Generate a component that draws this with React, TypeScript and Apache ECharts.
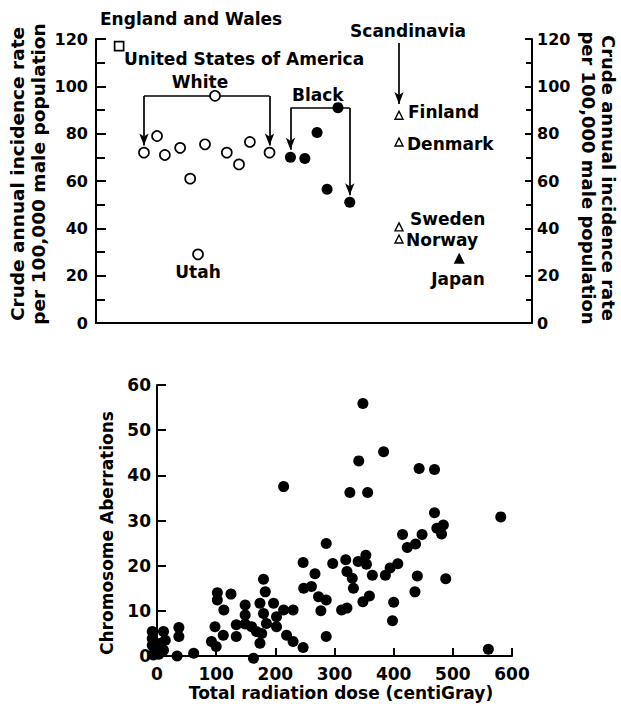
import React, { useEffect, useRef } from "react";
import * as echarts from "echarts";

const FONT = "DejaVu Sans";

// ---------- Top chart: crude annual incidence rate (per 100,000 male population) ----------
// x = position along the (unlabelled) horizontal axis, y = rate
const englandWales: number[][] = [[5.3, 117]];
const usWhiteX = [11.0, 14.0, 15.8, 19.3, 21.6, 25.0, 30.0, 32.8, 35.3, 39.8];
const usWhiteY = [72, 79, 71, 74, 61, 75.5, 72, 67, 76.5, 72];
const usWhiteOverall: number[][] = [[27.3, 96]];
const utah: number[][] = [[23.4, 29]];
const usBlackX = [44.6, 47.9, 50.7, 53.0, 58.2];
const usBlackY = [70, 69.5, 80.5, 56.5, 51];
const usBlackOverall: number[][] = [[55.5, 91]];
const scandNames = ["Finland", "Denmark", "Sweden", "Norway"];
const scandX = [69.5, 69.5, 69.5, 69.5];
const scandY = [87.8, 76.5, 40.6, 35.5];
const japan: number[][] = [[83.3, 27.4]];

const rateTicks = { min: 0, max: 120, interval: 20 };

// ---------- Bottom chart: chromosome aberrations vs total radiation dose ----------
const dose = [
  -8, -8, -8, -5, 0, 3, 11, 14, 11, 37, 37, 34, 62, 6, -6,
  102, 102, 113, 98, 92, 100, 112, 125, 134, 134, 149, 149, 149, 160, 163, 168, 174, 180, 183, 174, 180, 185, 177, 197, 202, 202, 214, 230, 214, 219, 230,
  247, 248, 261, 267, 273, 277, 286, 286, 297, 286, 247,
  312, 321, 319, 321, 330, 332, 340, 353, 354, 348, 359, 364, 326, 356, 341, 348,
  383, 443, 469, 469, 581, 484, 473, 481, 415, 448, 437, 423, 407, 394, 386, 440, 488, 436, 400, 398, 560,
];
const aberrations = [
  5.4, 3.9, 2.4, 0.6, 1.3, 0.4, 5.4, 3.5, 1.3, 6.3, 4.3, 0, 0.6, 2.8, 0.2,
  14.0, 12.4, 10.2, 6.5, 3.2, 2.1, 4.6, 13.7, 6.9, 4.3, 11.3, 9.1, 7.1, 6.5, -0.5, 5.4, 2.8, 17, 14.2, 11.7, 9.4, 7.2, 5.0, 11.7, 8.7, 6.5, 10.2, 10.2, 37.5, 4.6, 3.2,
  20.7, 15.0, 15.4, 18.2, 13.1, 10.0, 12.4, 24.9, 20.5, 4.3, 1.9,
  10.2, 10.6, 21.3, 18.7, 17.2, 15.0, 20.9, 22.3, 20.3, 12.0, 13.3, 17.9, 36.2, 36.2, 43.2, 55.9,
  45.2, 41.5, 41.3, 31.7, 30.8, 29.0, 28.3, 27.0, 26.9, 26.9, 24.8, 24.0, 20.4, 19.5, 17.9, 17.7, 17.1, 14.2, 11.9, 7.8, 1.5,
];
const doseTicks = { min: 0, max: 600, interval: 100 };
const aberrTicks = { min: 0, max: 60, interval: 10 };

const zip = (xs: number[], ys: number[]) => xs.map((x, i) => [x, ys[i]]);

const openStyle = () => ({ color: "#fff", borderColor: "#000", borderWidth: 1.7, opacity: 1 });
const solidStyle = () => ({ color: "#000", opacity: 1 });
const tickLine = () => ({ color: "#000", width: 2, opacity: 1 });
const axisLineStyle = () => ({ color: "#000", width: 2 });
const txt = (text: string, x: number, y: number, align = "left", size = 17, rotation = 0, lineHeight = 21) => ({
  type: "text",
  x,
  y,
  rotation,
  style: {
    text,
    fontFamily: FONT,
    fontWeight: 700,
    fontSize: size,
    lineHeight,
    fill: "#000",
    align,
    verticalAlign: "middle",
  },
});

const arrowEnd = (x: number, y: number) => ({ coord: [x, y], symbol: "arrow", symbolSize: [7, 12] });
const plainEnd = (x: number, y: number) => ({ coord: [x, y], symbol: "none" });

// tick-only overlay axis (same scale as the visible one)
const tickAxis = (extra: any, length: number, minor: boolean) => ({
  type: "value",
  ...extra,
  axisLine: { show: false },
  axisLabel: { show: false },
  splitLine: { show: false },
  axisTick: { show: true, inside: true, length, lineStyle: { color: "#000", width: 2 } },
  minorTick: { show: minor, splitNumber: 2, length: length - 1, lineStyle: { color: "#000", width: 2 } },
});

export default function App() {
  const ref = useRef<HTMLDivElement>(null);
  useEffect(() => {
    document.body.style.margin = "0";
    const chart = echarts.init(ref.current!, null, { renderer: "svg" });
    const labelStyle = (size: number, margin: number) => ({ color: "#000", fontFamily: FONT, fontWeight: 700, fontSize: size, margin });
    const wBrY = 95.9;
    const bBrY = 90.8;
    const topGrid = { left: 96, right: 89, top: 39, bottom: 385 };
    const bottomGrid = { left: 157, right: 109, top: 385, bottom: 52 };
    chart.setOption({
      animation: false,
      backgroundColor: "#fff",
      grid: [topGrid, bottomGrid, { ...topGrid }, { ...bottomGrid }],
      xAxis: [
        {
          gridIndex: 0, type: "value", min: 0, max: 100,
          axisLine: { show: true, onZero: false, lineStyle: axisLineStyle() },
          axisTick: { show: false }, axisLabel: { show: false }, splitLine: { show: false },
        },
        {
          gridIndex: 1, type: "value", ...doseTicks,
          axisLine: { show: true, onZero: false, lineStyle: axisLineStyle() },
          axisTick: { show: true, inside: true, length: 8, lineStyle: tickLine() },
          axisLabel: labelStyle(17, 9),
          splitLine: { show: false },
        },
        { gridIndex: 2, type: "value", min: 0, max: 100, show: false },
        tickAxis({ gridIndex: 3, ...doseTicks }, 8, false),
      ],
      yAxis: [
        {
          gridIndex: 0, type: "value", position: "left", ...rateTicks,
          axisLine: { show: true, lineStyle: axisLineStyle() },
          axisTick: { show: true, inside: true, length: 10, lineStyle: tickLine() },
          minorTick: { show: true, splitNumber: 2, length: 9, lineStyle: tickLine() },
          axisLabel: labelStyle(16, 8),
          splitLine: { show: false },
        },
        {
          gridIndex: 0, type: "value", position: "right", ...rateTicks,
          axisLine: { show: true, lineStyle: axisLineStyle() },
          axisTick: { show: true, inside: true, length: 6, lineStyle: tickLine() },
          minorTick: { show: true, splitNumber: 2, length: 6, lineStyle: tickLine() },
          axisLabel: labelStyle(16, 5),
          splitLine: { show: false },
        },
        {
          gridIndex: 1, type: "value", ...aberrTicks,
          axisLine: { show: true, lineStyle: axisLineStyle() },
          axisTick: { show: true, inside: true, length: 9, lineStyle: tickLine() },
          axisLabel: labelStyle(17, 6),
          splitLine: { show: false },
        },
        tickAxis({ gridIndex: 2, position: "left", ...rateTicks }, 10, true),
        tickAxis({ gridIndex: 2, position: "right", ...rateTicks }, 7, true),
        tickAxis({ gridIndex: 3, position: "left", ...aberrTicks }, 9, false),
      ],
      series: [
        {
          name: "England and Wales", type: "scatter", xAxisIndex: 0, yAxisIndex: 0, z: 3,
          symbol: "rect", symbolSize: 9, itemStyle: openStyle(), data: englandWales,
        },
        {
          name: "USA White", type: "scatter", xAxisIndex: 0, yAxisIndex: 0, z: 3,
          symbol: "circle", symbolSize: 10, itemStyle: openStyle(),
          data: [...zip(usWhiteX, usWhiteY), ...usWhiteOverall, ...utah],
          markLine: {
            silent: true, z: 1, animation: false,
            lineStyle: { color: "#000", width: 1.7, type: "solid", opacity: 1 },
            label: { show: false },
            data: [
              [plainEnd(usWhiteX[0], wBrY), plainEnd(usWhiteX[usWhiteX.length - 1], wBrY)],
              [plainEnd(usWhiteX[0], wBrY), arrowEnd(usWhiteX[0], 75)],
              [plainEnd(usWhiteX[usWhiteX.length - 1], wBrY), arrowEnd(usWhiteX[usWhiteX.length - 1], 75)],
              [plainEnd(usBlackX[0], bBrY), plainEnd(usBlackX[usBlackX.length - 1], bBrY)],
              [plainEnd(usBlackX[0], bBrY), arrowEnd(usBlackX[0], 73.2)],
              [plainEnd(usBlackX[usBlackX.length - 1], bBrY), arrowEnd(usBlackX[usBlackX.length - 1], 54)],
              [plainEnd(scandX[0], 118.3), arrowEnd(scandX[0], 92.5)],
            ],
          },
        },
        {
          name: "USA Black", type: "scatter", xAxisIndex: 0, yAxisIndex: 0, z: 3,
          symbol: "circle", symbolSize: 11, itemStyle: solidStyle(),
          data: [...zip(usBlackX, usBlackY), ...usBlackOverall],
        },
        {
          name: "Scandinavia", type: "scatter", xAxisIndex: 0, yAxisIndex: 0, z: 3,
          symbol: "triangle", symbolSize: 8, itemStyle: { color: "#fff", borderColor: "#000", borderWidth: 1.4, opacity: 1 },
          data: zip(scandX, scandY).map((d, i) => ({ name: scandNames[i], value: d })),
        },
        {
          name: "Japan", type: "scatter", xAxisIndex: 0, yAxisIndex: 0, z: 3,
          symbol: "triangle", symbolSize: 11, itemStyle: solidStyle(), data: japan,
        },
        {
          name: "Chromosome Aberrations", type: "scatter", xAxisIndex: 1, yAxisIndex: 2,
          symbol: "circle", symbolSize: 11, clip: false, itemStyle: solidStyle(),
          data: zip(dose, aberrations),
        },
      ],
      graphic: [
        txt("England and Wales", 100, 19),
        txt("United States of America", 124, 59),
        txt("White", 200, 82, "center"),
        txt("Black", 292, 95),
        txt("Utah", 198, 272, "center"),
        txt("Scandinavia", 408, 31, "center"),
        txt("Finland", 408, 112),
        txt("Denmark", 407, 144),
        txt("Sweden", 410, 219),
        txt("Norway", 406, 240),
        txt("Japan", 458, 279, "center"),
        txt("Crude annual incidence rate\nper 100,000 male population", 28, 174, "center", 18.5, Math.PI / 2, 21),
        txt("Crude annual incidence rate\nper 100,000 male population", 598, 178, "center", 18, -Math.PI / 2, 20),
        txt("Chromosome Aberrations", 107, 533, "center", 17, Math.PI / 2),
        txt("Total radiation dose (centiGray)", 341, 693, "center", 17),
      ],
    });
    return () => chart.dispose();
  }, []);
  return <div ref={ref} style={{ width: 621, height: 708 }} />;
}
